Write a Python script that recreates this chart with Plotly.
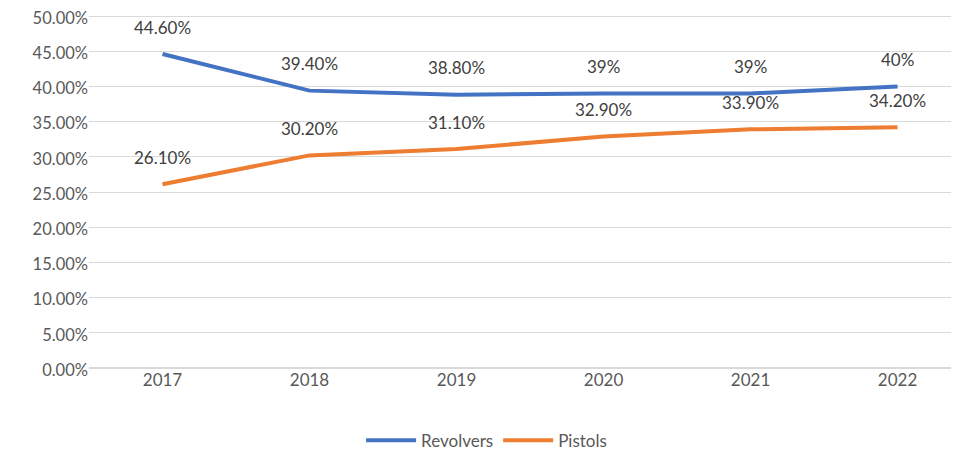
import plotly.graph_objects as go

years = ['2017', '2018', '2019', '2020', '2021', '2022']
revolvers = [0.446, 0.394, 0.388, 0.39, 0.39, 0.40]
pistols = [0.261, 0.302, 0.311, 0.329, 0.339, 0.342]
revolver_labels = ['44.60%', '39.40%', '38.80%', '39%', '39%', '40%']
pistol_labels = ['26.10%', '30.20%', '31.10%', '32.90%', '33.90%', '34.20%']

font_name = 'Lato, Liberation Sans, sans-serif'
text_color = '#595959'

fig = go.Figure()
fig.add_trace(go.Scatter(x=years, y=revolvers, mode='lines', name='Revolvers',
                         line=dict(color='#4472C4', width=4)))
fig.add_trace(go.Scatter(x=years, y=pistols, mode='lines', name='Pistols',
                         line=dict(color='#ED7D31', width=4)))

# data labels above each point (x given as category index)
annotations = []
for vals, labels in [(revolvers, revolver_labels), (pistols, pistol_labels)]:
    for i, (y, t) in enumerate(zip(vals, labels)):
        annotations.append(dict(x=i, y=y, xref='x', yref='y', text=t, showarrow=False,
                                yshift=27, font=dict(size=17, color='#404040', family=font_name)))

# page body has an 8px margin, so the figure is a bit smaller than the window
fig.update_layout(
    width=951, height=446,
    margin=dict(l=81, r=0, t=4, b=86, autoexpand=False),
    plot_bgcolor='white', paper_bgcolor='white',
    font=dict(family=font_name, size=17, color=text_color),
    annotations=annotations,
    xaxis=dict(type='category', range=[-0.5, 5.418], showgrid=False, automargin=False,
               showline=False, zeroline=False, ticks='', tickfont=dict(size=17)),
    yaxis=dict(range=[0, 0.5057], dtick=0.05, tickformat='.2%', showgrid=True, automargin=False,
               gridcolor='#d9d9d9', gridwidth=1, zeroline=True, zerolinecolor='#d9d9d9',
               showline=False, ticks='', tickfont=dict(size=16.5), ticklabeloverflow='allow',
               ticklabelshift=2),
    legend=dict(orientation='h', x=0.457, xanchor='center', y=-0.2045, yanchor='middle',
                font=dict(size=17, color=text_color), itemwidth=50),
    showlegend=True,
)

fig.write_html("out.html")
